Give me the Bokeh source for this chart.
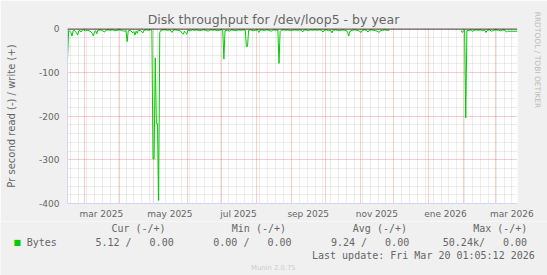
import math
import re
import pandas as pd
from bokeh.plotting import figure
from bokeh.layouts import column
from bokeh.models import Range1d, FixedTicker, Grid, Span, Label, LinearAxis
from bokeh.embed import file_html
from bokeh.resources import INLINE

# ---------------- data ----------------
START = "2025-02-14"          # left edge of the year graph
SPAN_DAYS = 400               # munin "by year" = 400 days
NAN = float("nan")

# read bytes per second, drawn negative (day offset from START, value)
day_a = [0, 1, 2, 3, 4, 5, 6, 7, 8, 9, 10, 11, 12, 13, 14, 16, 18, 20, 21, 22, 23, 24, 25, 26, 27,
         29, 31, 33, 34, 36, 38, 40, 42, 44, 46, 48, 50, 52, 53, 54, 56, 58, 59, 60, 61, 62, 63,
         65, 67, 68, 70, 72, 74, 75]
val_a = [-72, -3, -5, -8, -16, -4, -3, -5, -9, -14, -4, -3, -7, -3, -2, -4, -3, -5, -7, -10, -16, -6, -4, -11, -3,
         -2, -4, -7, -3, -2, -3, -2, -4, -3, -2, -3, -5, -4, -29, -4, -3, -9, -6, -14, -5, -10, -3,
         -4, -9, -3, -2, -3, -2, -3]
day_b = [76, 77, 78, 79, 80, 81, 82, 83]
val_b = [-298, -298, -66, -217, -217, -393, -8, -3]
day_c = [85, 87, 89, 91, 93, 94, 96, 98, 100, 102, 103, 104, 105, 106, 107, 109, 111, 113, 115, 117,
         119, 121, 123, 125, 127, 129, 131, 133, 135, 137, 138, 139, 140, 142, 144, 146, 148, 150,
         152, 154, 156, 158, 159, 160, 161, 163, 165, 167, 169, 170, 171, 173, 175, 177, 179, 181,
         183, 185, 187, 188, 189, 190]
val_c = [-2, -2, -3, -2, -8, -3, -2, -3, -4, -9, -12, -5, -8, -12, -3, -4, -2, -3, -2, -4,
         -3, -2, -3, -5, -2, -3, -2, -4, -3, -2, -3, -69, -4, -3, -5, -2, -3, -4,
         -2, -3, -2, -3, -40, -40, -3, -2, -4, -3, -2, -8, -3, -2, -4, -2, -3, -5,
         -2, -3, -2, -79, -6, -3]
day_d = [192, 194, 196, 198, 200, 202, 204, 206, 208, 209, 210, 212, 214, 216, 218, 220, 222, 224,
         226, 227, 228, 230, 232, 234, 235, 236, 238, 240, 242, 244, 246, 248, 249, 250, 251, 253,
         255, 257, 259, 261, 262, 264, 266, 267, 268, 270, 272, 274, 276, 277, 278, 280, 282, 284, 286]
val_d = [-2, -3, -2, -4, -3, -2, -3, -2, -3, -7, -3, -2, -4, -2, -3, -2, -3, -2,
         -3, -7, -3, -2, -4, -3, -9, -3, -2, -3, -4, -2, -3, -4, -8, -16, -5, -3,
         -2, -3, -4, -8, -3, -2, -3, -7, -3, -2, -3, -4, -6, -8, -4, -3, -2, -3, -3]
day_gap = [318]
val_gap = [NAN]
day_e = [350, 351, 352, 353, 354, 355, 357, 359, 360, 361, 363, 365, 367, 369, 371, 372, 373, 375,
         377, 379, 381, 383, 385, 387, 389, 390, 391, 400]
val_e = [-3, -8, -4, -3, -204, -4, -3, -2, -6, -3, -2, -3, -2, -4, -3, -8, -3, -2,
         -5, -3, -2, -3, -4, -2, -3, -7, -5.12, -5.12]

read_day = day_a + day_b + day_c + day_d + day_gap + day_e
read_val = val_a + val_b + val_c + val_d + val_gap + val_e

y_ticks = [-400, -300, -200, -100, 0]
y_tick_labels = ["-400", "-300", "-200", "-100", "0"]
x_label_months = ["2025-03-01", "2025-05-01", "2025-07-01", "2025-09-01", "2025-11-01", "2026-01-01", "2026-03-01"]
x_tick_labels = ["mar 2025", "may 2025", "jul 2025", "sep 2025", "nov 2025", "ene 2026", "mar 2026"]

title_text = "Disk throughput for /dev/loop5 - by year"
y_label_text = "Pr second read (-) / write (+)"
series_name = "Bytes"
stat_headers = ["Cur (-/+)", "Min (-/+)", "Avg (-/+)", "Max (-/+)"]
stat_values = ["5.12 /   0.00", "0.00 /   0.00", "9.24 /   0.00", "50.24k/   0.00"]
last_update = "Last update: Fri Mar 20 01:05:12 2026"
version_text = "Munin 2.0.75"
watermark = "RRDTOOL / TOBI OETIKER"

# ---------------- layout ----------------
W = 547
MAIN_H = 221
LEG_H = 275 - MAIN_H
L, R, T, B = 67, 517, 28, 203
Y_TOP = 1.14
BG = "#F0F0F0"
AXIS = "#CFD6F8"
FONT = "#666666"
start = pd.Timestamp(START)

def days_of(dates):
    return [int((pd.Timestamp(d) - start).days) for d in dates]

month_days = days_of(pd.date_range("2025-03-01", "2026-03-01", freq="MS"))
week_days = [d for d in days_of(pd.date_range("2025-02-17", "2026-03-20", freq="7D")) if d not in month_days]
label_days = [d + 15 for d in days_of(x_label_months)]

p = figure(width=W, height=MAIN_H, output_backend="svg", toolbar_location=None,
           x_range=Range1d(0, SPAN_DAYS), y_range=Range1d(-400, Y_TOP),
           min_border_left=L, min_border_right=W - R, min_border_top=T, min_border_bottom=MAIN_H - B)
p.background_fill_color = "#FFFFFF"
p.border_fill_color = BG
p.outline_line_color = None
p.grid.visible = False

# title
p.title.text = title_text
p.title.text_font = "DejaVu Sans"
p.title.text_font_size = "12.5px"
p.title.text_font_style = "normal"
p.title.text_color = FONT
p.title.align = "left"
p.title.offset = 80.2
p.title.standoff = 3.5

GRID_MINOR = "#8F8F8F"
GRID_MAJOR = "#E82020"
vgrid = Grid(dimension=0, ticker=FixedTicker(ticks=month_days, minor_ticks=week_days),
             grid_line_color=GRID_MAJOR, grid_line_alpha=0.45, grid_line_dash="1 1",
             minor_grid_line_color=GRID_MINOR, minor_grid_line_alpha=0.33, minor_grid_line_dash="1 1")
hgrid = Grid(dimension=1, ticker=FixedTicker(ticks=y_ticks, minor_ticks=[v for v in range(-380, 0, 20) if v % 100]),
             grid_line_color=GRID_MAJOR, grid_line_alpha=0.45, grid_line_dash="1 1",
             minor_grid_line_color=GRID_MINOR, minor_grid_line_alpha=0.33, minor_grid_line_dash="1 1")
p.add_layout(vgrid)
p.add_layout(hgrid)

p.line(read_day, read_val, line_color="#00CC00", line_width=1)
p.add_layout(Span(location=0, dimension="width", line_color="#000000", line_width=1))

for ax in (p.xaxis[0], p.yaxis[0]):
    ax.axis_line_color = AXIS
    ax.major_tick_line_color = None
    ax.minor_tick_line_color = None
    ax.major_tick_out = 0
    ax.major_tick_in = 0
    ax.major_label_text_font = "DejaVu Sans"
    ax.major_label_text_font_size = "9px"
    ax.major_label_text_color = FONT
p.xaxis.ticker = FixedTicker(ticks=label_days)
p.xaxis.major_label_overrides = dict(zip(label_days, x_tick_labels))
p.xaxis.major_label_standoff = 5
p.yaxis.ticker = FixedTicker(ticks=y_ticks)
p.yaxis.major_label_overrides = dict(zip(y_ticks, y_tick_labels))
p.yaxis.major_label_standoff = 8
p.yaxis.axis_label = y_label_text
p.yaxis.axis_label_text_font = "DejaVu Sans"
p.yaxis.axis_label_text_font_size = "10px"
p.yaxis.axis_label_text_font_style = "normal"
p.yaxis.axis_label_text_color = FONT
p.yaxis.axis_label_standoff = 19

# watermark as the label of an empty right-hand axis; trailing no-break spaces
# lift the visible text towards the top of the frame, as rrdtool draws it
wm = LinearAxis(ticker=FixedTicker(ticks=[]), axis_line_color=None, major_tick_line_color=None,
                minor_tick_line_color=None, major_label_text_font_size="0px", major_label_standoff=0,
                major_tick_out=0, major_tick_in=0,
                axis_label=watermark + "\u00a0" * 47, axis_label_text_font="DejaVu Sans",
                axis_label_text_font_size="7.5px", axis_label_text_font_style="normal",
                axis_label_text_color="#BBBBBB", axis_label_standoff=15)
p.add_layout(wm, "right")

# ---------------- legend strip (pixel coordinates) ----------------
q = figure(width=W, height=LEG_H, output_backend="svg", toolbar_location=None,
           x_range=Range1d(0, W), y_range=Range1d(LEG_H, 0),
           x_axis_location=None, y_axis_location=None, min_border=0)
q.background_fill_color = BG
q.border_fill_color = BG
q.outline_line_color = None
q.grid.visible = False
for fig in (p, q):
    if "frame_align" in fig.properties():
        fig.frame_align = False

def keep_spaces(s):
    return re.sub(r" {2,}", lambda m: "\u00a0" * len(m.group()), s)

def text(t, cx, cy, size, font="DejaVu Sans Mono", color=FONT, align="left"):
    q.add_layout(Label(x=cx, y=cy - MAIN_H, text=keep_spaces(t), text_font=font, text_font_size=size,
                       text_color=color, text_align=align, text_baseline="middle"))

text("\u25A0", 16.8, 242.3, "8px", font="DejaVu Sans", color="#00CC00", align="center")
text(series_name, 26.2, 242.3, "10px")
for hx, h in zip([110.9, 231.3, 352.3, 472.7], stat_headers):
    text(h, hx, 228.4, "10px")
for vx, v in zip([94.9, 212.8, 330.4, 442.3], stat_values):
    text(v, vx, 242.3, "10px")
text(last_update, 311.5, 254.5, "10px")
text(version_text, 272.8, 267.4, "6.8px", font="DejaVu Sans", color="#CCCCCC", align="center")

open("out.html", "w").write(file_html(column(p, q, spacing=0), INLINE))
